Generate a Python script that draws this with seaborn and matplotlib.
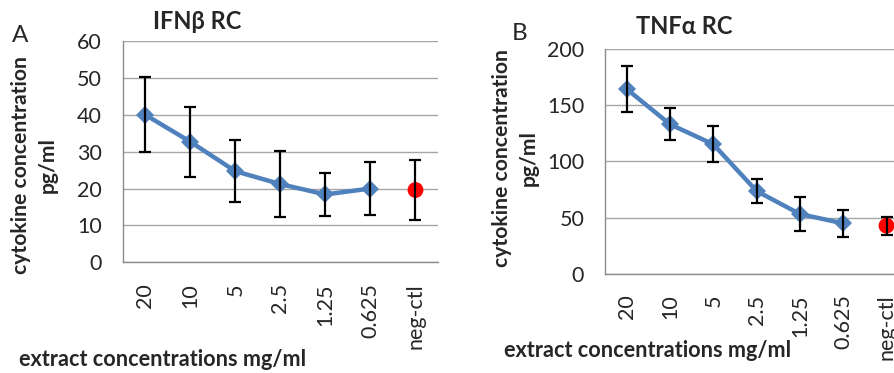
import numpy as np
import pandas as pd
import matplotlib
matplotlib.use("Agg")
import matplotlib.pyplot as plt
import seaborn as sns

# ---- data ----
categories = ["20", "10", "5", "2.5", "1.25", "0.625", "neg-ctl"]

ifnb_mean = [40.0, 32.7, 24.7, 21.2, 18.4, 20.0]
ifnb_err = [10.2, 9.5, 8.4, 9.0, 5.8, 7.2]
ifnb_neg_mean = [19.6]
ifnb_neg_err = [8.2]
ifnb_yticks = [0, 10, 20, 30, 40, 50, 60]

tnfa_mean = [164.4, 133.0, 115.2, 73.6, 53.1, 44.8]
tnfa_err = [20.8, 14.4, 16.2, 10.5, 15.0, 12.3]
tnfa_neg_mean = [42.7]
tnfa_neg_err = [8.2]
tnfa_yticks = [0, 50, 100, 150, 200]

titles = ["IFNβ RC", "TNFα RC"]
letters = ["A", "B"]
ylabel = "cytokine concentration\npg/ml"
xlabel = "extract concentrations mg/ml"

sns.set_style("white")
plt.rcParams["font.family"] = ["Lato", "DejaVu Sans"]

BLUE = "#4F81BD"
RED = "#FF0000"
GRID = "#a6a6a6"

fig = plt.figure(figsize=(8.95, 3.73), dpi=100)
ax1 = fig.add_axes([0.1371, 0.2968, 0.3523, 0.5932])
ax2 = fig.add_axes([0.676, 0.2662, 0.3387, 0.6024])


def panel(ax, means, errs, neg_mean, neg_err, yticks, title, letter,
          ylab_xy, xlab_xy, title_xy, letter_xy):
    n = len(means)
    df = pd.DataFrame({"pos": np.arange(n), "value": means, "err": errs})
    neg = pd.DataFrame({"pos": np.arange(n, n + len(neg_mean)),
                        "value": neg_mean, "err": neg_err})
    sns.lineplot(data=df, x="pos", y="value", ax=ax, color=BLUE, lw=3.2,
                 marker="D", markersize=9.5, markeredgewidth=0, zorder=3)
    sns.scatterplot(data=neg, x="pos", y="value", ax=ax, color=RED, s=130,
                    edgecolor="none", zorder=3)
    ax.errorbar(df["pos"], df["value"], yerr=df["err"], fmt="none",
                ecolor="black", elinewidth=1.6, capsize=4.2, capthick=1.6,
                zorder=5)
    ax.errorbar(neg["pos"], neg["value"], yerr=neg["err"], fmt="none",
                ecolor="black", elinewidth=1.6, capsize=4.2, capthick=1.6,
                zorder=5)

    ax.set_xlim(-0.5, len(categories) - 0.5)
    ax.set_ylim(yticks[0], yticks[-1])
    ax.set_yticks(yticks)
    ax.set_xticks(np.arange(len(categories)))
    ax.set_xticklabels(categories, rotation=90, va="top", ha="center")
    ax.tick_params(axis="both", length=0, labelsize=15.5, pad=15)
    ax.yaxis.grid(True, color=GRID, lw=1)
    ax.xaxis.grid(False)
    ax.set_axisbelow(True)
    for s in ["top", "right"]:
        ax.spines[s].set_visible(False)
    for s in ["left", "bottom"]:
        ax.spines[s].set_color("#8c8c8c")
        ax.spines[s].set_linewidth(1)

    ax.set_ylabel(ylabel, fontsize=15.2, fontweight="bold", linespacing=1.45,
                  ha="center")
    ax.yaxis.set_label_coords(*ylab_xy)
    ax.set_xlabel(xlabel, fontsize=15.6, fontweight="bold")
    ax.xaxis.set_label_coords(*xlab_xy)
    ax.text(title_xy[0], title_xy[1], title, transform=ax.transAxes,
            ha="center", va="center", fontsize=17, fontweight="bold")
    ax.text(letter_xy[0], letter_xy[1], letter, transform=fig.transFigure,
            ha="left", va="center", fontsize=17.5)


panel(ax1, ifnb_mean, ifnb_err, ifnb_neg_mean, ifnb_neg_err, ifnb_yticks,
      titles[0], letters[0], (-0.205, 0.44), (0.126, -0.39), (0.236, 1.09),
      (12 / 895, 1 - 35 / 373))
panel(ax2, tnfa_mean, tnfa_err, tnfa_neg_mean, tnfa_neg_err, tnfa_yticks,
      titles[1], letters[1], (-0.218, 0.516), (0.140, -0.295), (0.261, 1.102),
      (512 / 895, 1 - 34 / 373))

fig.savefig("out.png", dpi=100)
